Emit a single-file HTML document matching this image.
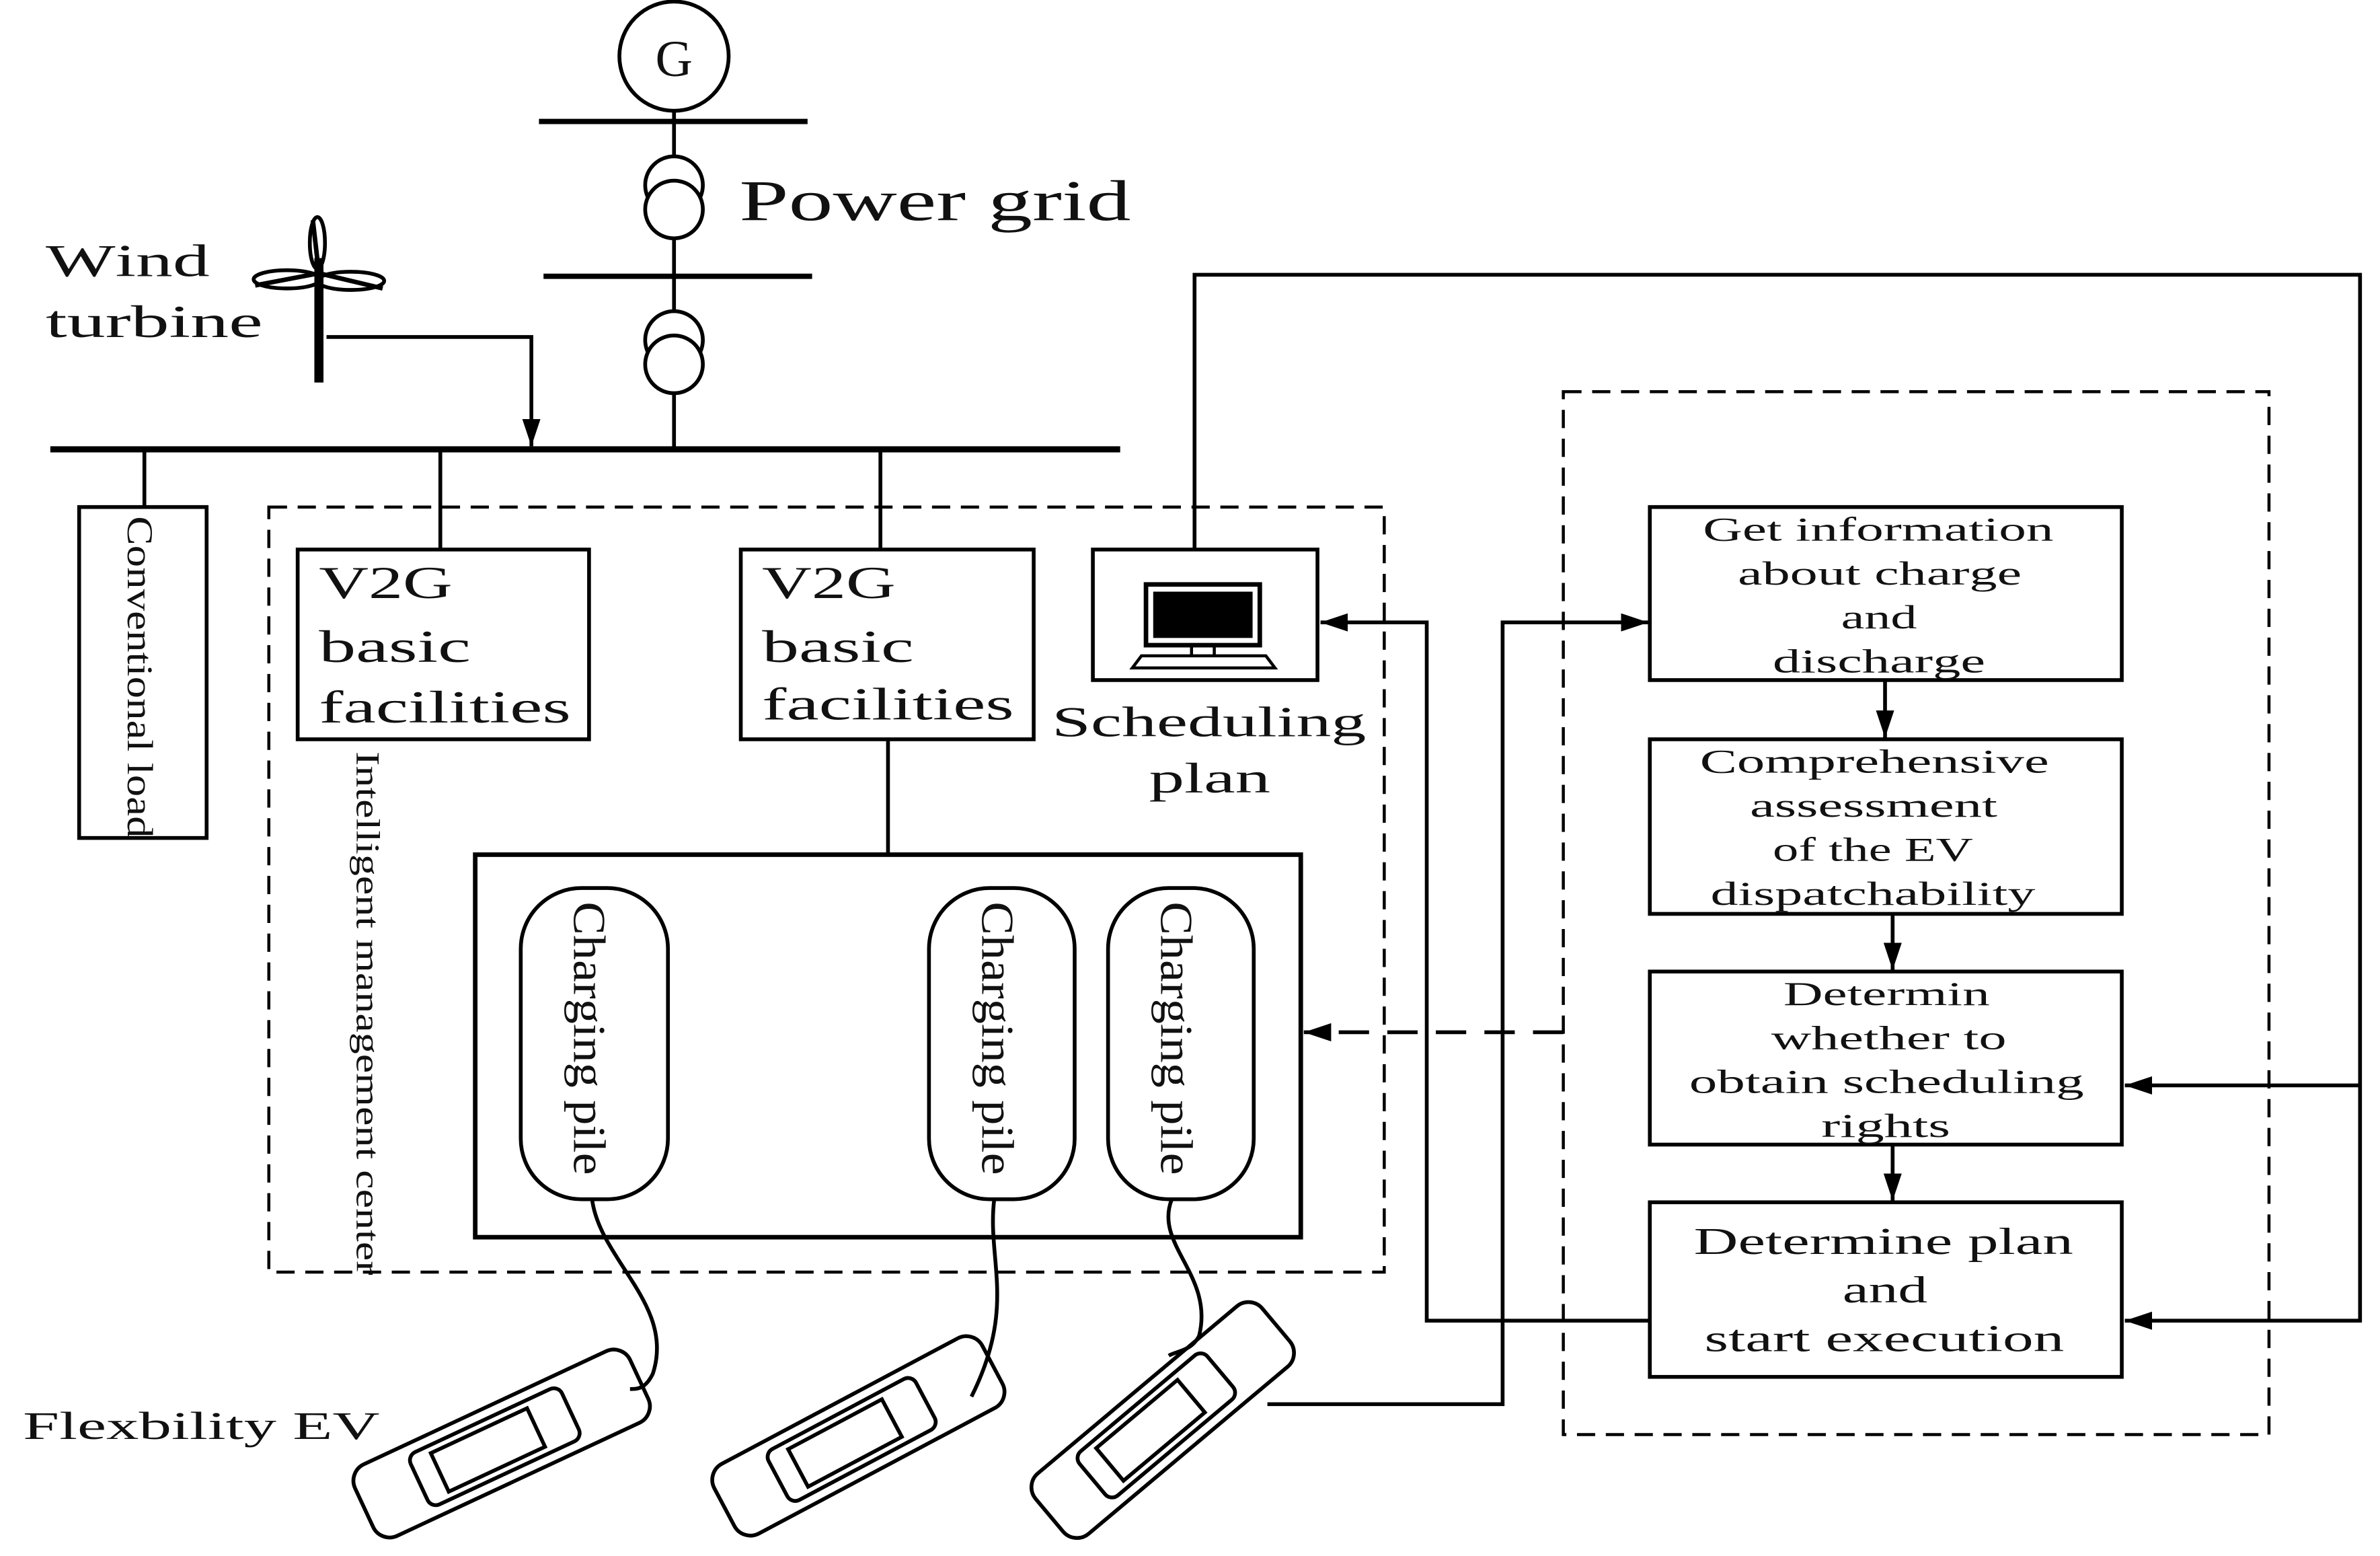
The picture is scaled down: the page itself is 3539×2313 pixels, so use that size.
<!DOCTYPE html>
<html><head><meta charset="utf-8"><style>
html,body{margin:0;padding:0;background:#fff;}
svg{display:block}
text{font-family:"Liberation Serif",serif;fill:#111}
</style></head><body>
<svg width="3539" height="2313" viewBox="0 0 1568 1025" xmlns="http://www.w3.org/2000/svg">
<defs>
<marker id="b" markerWidth="20" markerHeight="12" refX="18" refY="6" orient="auto" markerUnits="userSpaceOnUse"><path d="M0,0 L18,6 L0,12 z" fill="#000"/></marker></defs>
<g stroke="#000" fill="none" stroke-width="2.5">
<circle cx="444" cy="37" r="36"/>
<line x1="444" y1="73" x2="444" y2="296"/>
<line x1="355" y1="80" x2="532" y2="80" stroke-width="3.5"/>
<line x1="358" y1="182" x2="535" y2="182" stroke-width="3.5"/>
<circle cx="444" cy="122" r="19" fill="#fff"/><circle cx="444" cy="138" r="19" fill="#fff"/>
<circle cx="444" cy="224" r="19" fill="#fff"/><circle cx="444" cy="240" r="19" fill="#fff"/>
<line x1="33" y1="296" x2="738" y2="296" stroke-width="4"/>
<line x1="210" y1="170" x2="210" y2="252" stroke-width="6"/>
<path d="M210,180 L168,188 M210,180 L252,190 M210,180 L206,145" stroke-width="3"/>
<ellipse cx="189" cy="184" rx="22" ry="6"/><ellipse cx="231" cy="185" rx="22" ry="6"/><ellipse cx="209" cy="160" rx="5" ry="17"/>
<polyline points="215,222 350,222 350,294" marker-end="url(#b)"/>
<line x1="95" y1="296" x2="95" y2="334"/>
<rect x="52" y="334" width="84" height="218"/>
<rect x="177" y="334" width="735" height="504" stroke-dasharray="12,7" stroke-width="2"/>
<line x1="290" y1="296" x2="290" y2="362"/><line x1="580" y1="296" x2="580" y2="362"/>
<rect x="196" y="362" width="192" height="125"/>
<rect x="488" y="362" width="193" height="125"/>
<line x1="585" y1="487" x2="585" y2="563"/>
<rect x="720" y="362" width="148" height="86"/>
<rect x="313" y="563" width="544" height="252" stroke-width="3"/>
<rect x="343" y="585" width="97" height="205" rx="40"/>
<rect x="612" y="585" width="96" height="205" rx="40"/>
<rect x="730" y="585" width="96" height="205" rx="40"/>
<rect x="1030" y="258" width="465" height="687" stroke-dasharray="12,7" stroke-width="2"/>
<rect x="1087" y="334" width="311" height="114"/>
<rect x="1087" y="487" width="311" height="115"/>
<rect x="1087" y="640" width="311" height="114"/>
<rect x="1087" y="792" width="311" height="115"/>
<line x1="1242" y1="448" x2="1242" y2="486" marker-end="url(#b)"/>
<line x1="1247" y1="602" x2="1247" y2="639" marker-end="url(#b)"/>
<line x1="1247" y1="754" x2="1247" y2="791" marker-end="url(#b)"/>
<polyline points="787,362 787,181 1555,181 1555,870 1400,870" marker-end="url(#b)"/>
<line x1="1555" y1="715" x2="1400" y2="715" marker-end="url(#b)"/>
<polyline points="1087,870 940,870 940,410 870,410" marker-end="url(#b)"/>
<polyline points="835,925 990,925 990,410 1086,410" marker-end="url(#b)"/>
<line x1="1030" y1="680" x2="859" y2="680" stroke-dasharray="20,12" marker-end="url(#b)"/>
<path d="M390,790 C395,830 445,860 430,905 C425,915 420,915 415,915"/>
<path d="M655,790 C650,830 670,860 640,920"/>
<path d="M772,790 C760,820 800,840 790,880 C785,890 775,890 770,893"/>
<g transform="rotate(-25 330 950)"><rect x="230" y="925" width="200" height="52" rx="12"/><rect x="270" y="932" width="110" height="38" rx="6"/><rect x="285" y="937" width="70" height="28"/></g>
<g transform="rotate(-28 565 945)"><rect x="465" y="920" width="200" height="52" rx="12"/><rect x="505" y="927" width="110" height="38" rx="6"/><rect x="520" y="932" width="70" height="28"/></g>
<g transform="rotate(-40 765 935)"><rect x="668" y="910" width="195" height="52" rx="12"/><rect x="705" y="917" width="110" height="38" rx="6"/><rect x="720" y="922" width="70" height="28"/></g>
<rect x="755" y="385" width="75" height="40" stroke-width="3"/><rect x="761" y="391" width="63" height="28" fill="#000"/>
<path d="M785,425 L785,432 L800,432 L800,425 M752,432 L834,432 L840,440 L746,440 Z" stroke-width="2"/>
</g>
<g style="font-kerning:none">
<text x="444" y="50" font-size="34" text-anchor="middle">G</text>
<text x="487" y="145" font-size="38" textLength="258" lengthAdjust="spacingAndGlyphs">Power grid</text>
<text x="30" y="182" font-size="30" textLength="108" lengthAdjust="spacingAndGlyphs">Wind</text>
<text x="30" y="222" font-size="30" textLength="143" lengthAdjust="spacingAndGlyphs">turbine</text>
<text x="15" y="948" font-size="26" textLength="235" lengthAdjust="spacingAndGlyphs">Flexbility EV</text>
<g font-size="30"><text x="210" y="394" textLength="88" lengthAdjust="spacingAndGlyphs">V2G</text><text x="210" y="436" textLength="100" lengthAdjust="spacingAndGlyphs">basic</text><text x="210" y="476" textLength="166" lengthAdjust="spacingAndGlyphs">facilities</text>
<text x="502" y="394" textLength="88" lengthAdjust="spacingAndGlyphs">V2G</text><text x="502" y="436" textLength="100" lengthAdjust="spacingAndGlyphs">basic</text><text x="502" y="474" textLength="166" lengthAdjust="spacingAndGlyphs">facilities</text></g>
<g font-size="28"><text x="693" y="485" textLength="207" lengthAdjust="spacingAndGlyphs">Scheduling</text><text x="757" y="522" textLength="80" lengthAdjust="spacingAndGlyphs">plan</text></g>
<g font-size="22">
<text x="1122" y="356" textLength="231" lengthAdjust="spacingAndGlyphs">Get information</text><text x="1145" y="385" textLength="187" lengthAdjust="spacingAndGlyphs">about charge</text><text x="1213" y="414" textLength="50" lengthAdjust="spacingAndGlyphs">and</text><text x="1168" y="443" textLength="140" lengthAdjust="spacingAndGlyphs">discharge</text>
<text x="1120" y="509" textLength="230" lengthAdjust="spacingAndGlyphs">Comprehensive</text><text x="1153" y="538" textLength="163" lengthAdjust="spacingAndGlyphs">assessment</text><text x="1168" y="567" textLength="132" lengthAdjust="spacingAndGlyphs">of the EV</text><text x="1127" y="596" textLength="214" lengthAdjust="spacingAndGlyphs">dispatchability</text>
<text x="1175" y="662" textLength="136" lengthAdjust="spacingAndGlyphs">Determin</text><text x="1167" y="691" textLength="155" lengthAdjust="spacingAndGlyphs">whether to</text><text x="1113" y="720" textLength="260" lengthAdjust="spacingAndGlyphs">obtain scheduling</text><text x="1200" y="749" textLength="85" lengthAdjust="spacingAndGlyphs">rights</text>
</g>
<g font-size="25"><text x="1116" y="826" textLength="250" lengthAdjust="spacingAndGlyphs">Determine plan</text><text x="1214" y="858" textLength="56" lengthAdjust="spacingAndGlyphs">and</text><text x="1123" y="890" textLength="237" lengthAdjust="spacingAndGlyphs">start execution</text></g>
<text transform="translate(84,340) rotate(90)" font-size="24" textLength="212" lengthAdjust="spacingAndGlyphs">Conventional load</text>
<text transform="translate(235,495) rotate(90)" font-size="22" textLength="345" lengthAdjust="spacingAndGlyphs">Intelligent management center</text>
<g font-size="30"><text transform="translate(378,594) rotate(90)" textLength="180" lengthAdjust="spacingAndGlyphs">Charging pile</text>
<text transform="translate(647,594) rotate(90)" textLength="180" lengthAdjust="spacingAndGlyphs">Charging pile</text>
<text transform="translate(765,594) rotate(90)" textLength="180" lengthAdjust="spacingAndGlyphs">Charging pile</text></g>
</g>
</svg>
</body></html>
